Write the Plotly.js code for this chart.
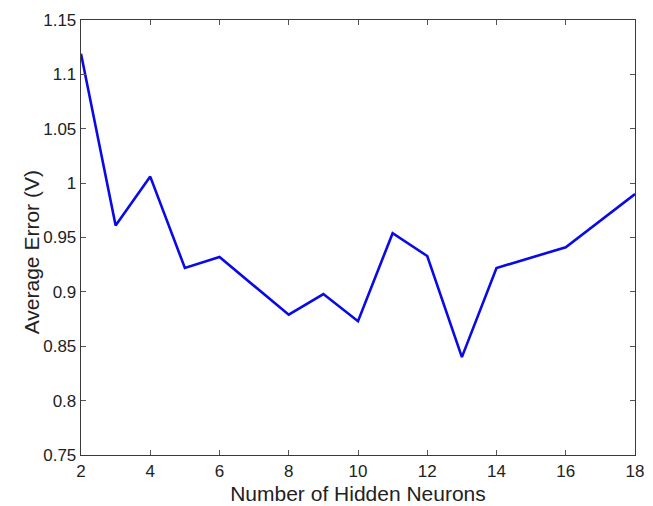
<!DOCTYPE html>
<html>
<head>
<meta charset="utf-8">
<script src="https://cdn.plot.ly/plotly-3.0.1.min.js"></script>
<style>html,body{margin:0;padding:0;background:#fff;}#chart{width:653px;height:506px;}</style>
</head>
<body>
<div id="chart"></div>
<script>
const hiddenNeurons = [2, 3, 4, 5, 6, 8, 9, 10, 11, 12, 13, 14, 16, 18];
const averageError = [1.119, 0.961, 1.006, 0.922, 0.932, 0.879, 0.898, 0.873, 0.954, 0.933, 0.840, 0.922, 0.941, 0.990];
const xTickVals = [2, 4, 6, 8, 10, 12, 14, 16, 18];
const xTickText = ['2', '4', '6', '8', '10', '12', '14', '16', '18'];
const yTickVals = [0.75, 0.8, 0.85, 0.9, 0.95, 1.0, 1.05, 1.1, 1.15];
const yTickText = ['0.75', '0.8', '0.85', '0.9', '0.95', '1', '1.05', '1.1', '1.15'];

const font = 'Liberation Sans, Arial, Helvetica, sans-serif';
const trace = {
  x: hiddenNeurons,
  y: averageError,
  type: 'scatter',
  mode: 'lines',
  line: {color: '#0a0ae6', width: 2.6},
  showlegend: false,
  hoverinfo: 'skip'
};
const axisCommon = {
  showgrid: false,
  zeroline: false,
  showline: true,
  linecolor: '#3a3a3a',
  linewidth: 1.3,
  mirror: 'ticks',
  ticks: 'inside',
  ticklen: 5,
  tickwidth: 1,
  tickcolor: '#555',
  tickfont: {family: font, size: 17, color: '#222'}
};
const layout = {
  width: 653,
  height: 506,
  paper_bgcolor: '#fff',
  plot_bgcolor: '#fff',
  margin: {l: 81, r: 18, t: 20, b: 51},
  xaxis: Object.assign({}, axisCommon, {
    range: [2, 18],
    tickmode: 'array',
    tickvals: xTickVals,
    ticktext: xTickText,
    title: {text: 'Number of Hidden Neurons', font: {family: font, size: 21, color: '#222'}, standoff: 6}
  }),
  yaxis: Object.assign({}, axisCommon, {
    range: [0.75, 1.15],
    tickmode: 'array',
    tickvals: yTickVals,
    ticktext: yTickText
  }),
  annotations: [{
    text: 'Average Error (V)',
    xref: 'paper', yref: 'paper',
    x: 0, y: 0.466,
    xshift: -50,
    xanchor: 'center', yanchor: 'middle',
    textangle: -90,
    showarrow: false,
    font: {family: font, size: 21, color: '#222'}
  }]
};
Plotly.newPlot('chart', [trace], layout, {displayModeBar: false, staticPlot: true});
</script>
</body>
</html>
